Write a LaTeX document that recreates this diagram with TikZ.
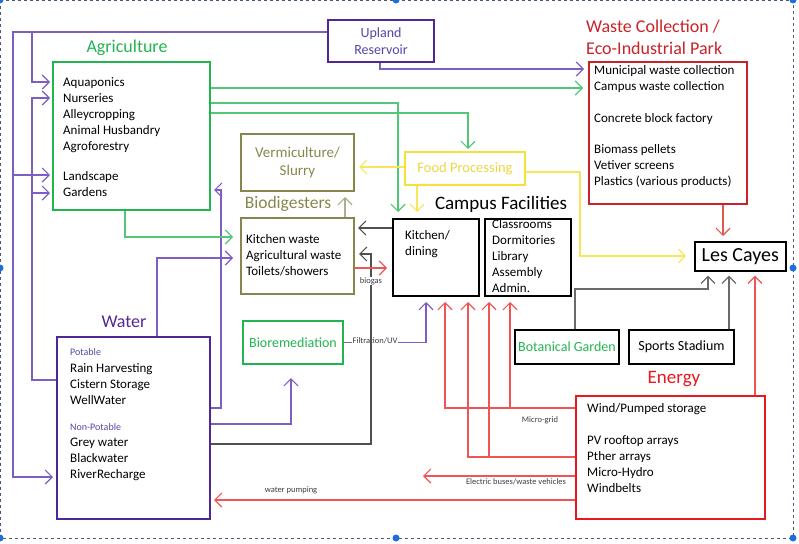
\documentclass[tikz,border=0pt]{standalone}
\usepackage{fontspec}
\setmainfont{Carlito}
\usetikzlibrary{arrows.meta}
\definecolor{agrigreen}{RGB}{34,180,80}
\definecolor{linegreen}{RGB}{80,200,120}
\definecolor{darkpurp}{RGB}{80,40,150}
\definecolor{linepurp}{RGB}{125,95,195}
\definecolor{textpurp}{RGB}{85,70,170}
\definecolor{olivec}{RGB}{135,135,75}
\definecolor{lightolive}{RGB}{170,175,140}
\definecolor{foodyel}{RGB}{245,225,60}
\definecolor{foodtext}{RGB}{238,214,70}
\definecolor{lineyel}{RGB}{245,230,90}
\definecolor{wastered}{RGB}{200,35,40}
\definecolor{energyred}{RGB}{232,25,30}
\definecolor{linered}{RGB}{240,85,85}
\definecolor{wastearrow}{RGB}{220,90,80}
\definecolor{linegray}{RGB}{80,80,80}
\definecolor{labelgray}{RGB}{60,60,70}
\definecolor{framecol}{RGB}{70,90,120}
\definecolor{dotblue}{RGB}{30,110,220}
\tikzset{
 box/.style={draw, rectangle, inner sep=0pt, anchor=north west, line width=2pt},
 conn/.style={line width=1.2pt, -{Straight Barb[length=7pt,width=14pt]}},
 body/.style={inner sep=0pt, anchor=north west, align=left, font=\fontsize{13}{16}\selectfont},
 lab/.style={inner sep=1pt, font=\fontsize{8.5}{10}\selectfont, text=labelgray},
 title/.style={inner sep=0pt, font=\fontsize{18}{22}\selectfont},
 mid/.style={inner sep=0pt, font=\fontsize{14}{17}\selectfont, align=center},
 hdot/.style={fill=dotblue, draw=none, circle, minimum size=7pt, inner sep=0pt},
}
\begin{document}
\begin{tikzpicture}[x=1pt,y=-1pt]
\useasboundingbox (0,0) rectangle (799,543);
% frame
\draw[framecol, dashed, line width=0.8pt] (0.5,0.5) rectangle (793,538);
\foreach \px/\py [count=\i] in {0/0,396/0,793/0,0/268,793/268,0/538,396/538,793/538}
  \node[hdot] (h\i) at (\px,\py) {};

% boxes
\node[box, draw=darkpurp, minimum width=106pt, minimum height=42pt] (upland) at (327,19) {};
\node[mid, text=textpurp] (uplandtxt) at (upland.center) {Upland\\Reservoir};

\node[box, draw=agrigreen, minimum width=157pt, minimum height=148pt] (agri) at (52,61) {};
\node[title, text=agrigreen] (agrititle) at (127,48) {Agriculture};
\node[body] (agritxt) at (63,77) {Aquaponics\\Nurseries\\Alleycropping\\Animal Husbandry\\Agroforestry\\[14pt]Landscape\\Gardens};

\node[box, draw=wastered, minimum width=158pt, minimum height=142pt] (waste) at (588,61) {};
\node[title, text=wastered, anchor=north west, align=left] (wastetitle) at (586,20) {Waste Collection /\\Eco-Industrial Park};
\node[body] (wastetxt) at (594,65) {Municipal waste collection\\Campus waste collection\\[16pt]Concrete block factory\\[15pt]Biomass pellets\\Vetiver screens\\Plastics (various products)};

\node[box, draw=olivec, minimum width=113pt, minimum height=57pt] (verm) at (240,133) {};
\node[inner sep=0pt, font=\fontsize{15}{18}\selectfont, text=olivec, align=center] (vermtxt) at (verm.center) {Vermiculture/\\Slurry};

\node[box, draw=foodyel, minimum width=120pt, minimum height=33pt] (food) at (404,151) {};
\node[mid, text=foodtext, font=\fontsize{14.5}{17}\selectfont] (foodtxt) at (food.center) {Food Processing};

\node[box, draw=olivec, minimum width=113pt, minimum height=76pt] (bio) at (240,217) {};
\node[inner sep=0pt, font=\fontsize{17.5}{20}\selectfont, text=olivec] (biotitle) at (288,204) {Biodigesters};
\node[body] (biotxt) at (246,234) {Kitchen waste\\Agricultural waste\\Toilets/showers};

\node[inner sep=0pt, font=\fontsize{19}{22}\selectfont] (camptitle) at (501,204) {Campus Facilities};
\node[box, draw=black, minimum width=86pt, minimum height=77pt] (kitchen) at (392,218) {};
\node[body] (kitchentxt) at (405,230) {Kitchen/\\dining};
\node[box, draw=black, minimum width=86pt, minimum height=77pt] (classes) at (484,218) {};
\node[body] (classtxt) at (492,219) {Classrooms\\Dormitories\\Library\\Assembly\\Admin.};

\node[box, draw=black, line width=1.6pt, minimum width=91pt, minimum height=29pt] (lescayes) at (694,241) {};
\node[inner sep=0pt, font=\fontsize{20}{22}\selectfont] (lestxt) at (lescayes.center) {Les Cayes};

\node[box, draw=agrigreen, minimum width=100pt, minimum height=43pt] (bioremed) at (242,320) {};
\node[mid, text=agrigreen] (bioremedtxt) at (bioremed.center) {Bioremediation};

\node[box, draw=black, minimum width=104pt, minimum height=34pt] (botan) at (514,329) {};
\node[mid, text=agrigreen] (botantxt) at (botan.center) {Botanical Garden};
\node[box, draw=black, minimum width=105pt, minimum height=34pt] (sports) at (628,329) {};
\node[mid] (sportstxt) at (sports.center) {Sports Stadium};

\node[box, draw=darkpurp, minimum width=153pt, minimum height=182pt] (water) at (56,336) {};
\node[title, text=darkpurp] (watertitle) at (124,322) {Water};
\node[inner sep=0pt, anchor=north west, font=\fontsize{10}{12}\selectfont, text=textpurp] (potable) at (70,348) {Potable};
\node[body] (watera) at (70,363) {Rain Harvesting\\Cistern Storage\\WellWater};
\node[inner sep=0pt, anchor=north west, font=\fontsize{10}{12}\selectfont, text=textpurp] (nonpot) at (70,423) {Non-Potable};
\node[body] (waterb) at (70,438) {Grey water\\Blackwater\\RiverRecharge};

\node[box, draw=energyred, minimum width=189pt, minimum height=123pt] (energy) at (575,395) {};
\node[inner sep=0pt, font=\fontsize{19}{22}\selectfont, text=energyred] (energytitle) at (674,379) {Energy};
\node[body] (energytxt) at (587,403) {Wind/Pumped storage\\[16pt]PV rooftop arrays\\Pther arrays\\Micro-Hydro\\Windbelts};

% purple connectors
\draw[conn, linepurp, shorten >=3pt] (upland.west |- 0,32) -| (13,477) -- (water.west |- 0,477);
\draw[conn, linepurp, shorten >=2pt] (13,175) -- (agri.west |- 0,175);
\draw[conn, linepurp, shorten >=2pt] (32,32) |- (agri.west |- 0,82);
\draw[conn, linepurp, shorten >=2pt] (water.west |- 0,380) -| (32,98) -- (agri.west |- 0,98);
\draw[conn, linepurp, shorten >=2pt] (32,193) -- (agri.west |- 0,193);
\draw[conn, linepurp, shorten >=7pt] (water.north -| 157,0) |- (bio.west |- 0,258);
\draw[conn, linepurp, shorten >=3pt] (water.east |- 0,408) -| (221,190) -- (agri.east |- 0,190);
\draw[conn, linepurp, shorten >=13pt] (water.east |- 0,424) -| (bioremed.south -| 291,0);
\draw[conn, linepurp, shorten >=4pt] (upland.south -| 380,0) |- (waste.west |- 0,69);
\draw[conn, linepurp, shorten >=5pt] (bioremed.east) -| (kitchen.south -| 426,0);
\node[lab, fill=white] (filt) at (375,341) {Filtration/UV};

% gray connectors
\draw[conn, linegray, shorten >=4pt] (water.east |- 0,444) -| (371,254) -- (bio.east |- 0,254);
\draw[conn, linegray, shorten >=3pt] (kitchen.west |- 0,228) -- (bio.east |- 0,228);
\draw[conn, linegray!85!white, shorten >=4pt] (botan.north -| 575,0) |- (708,289) -- (lescayes.south -| 708,0);
\draw[conn, linegray!85!white, shorten >=4pt] (sports.north -| 729,0) -- (lescayes.south -| 729,0);

% red connectors
\draw[conn, linered, shorten >=5pt] (bio.east |- 0,268) -- (kitchen.west |- 0,268);
\node[lab, fill=white, inner sep=0.5pt] (biogaslab) at (371,281) {biogas};
\draw[conn, linered, shorten >=5pt] (energy.west |- 0,408) -| (kitchen.south -| 445,0);
\draw[conn, linered, shorten >=5pt] (510,408) -- (classes.south -| 510,0);
\draw[conn, linered, shorten >=5pt] (energy.west |- 0,457) -| (kitchen.south -| 468,0);
\draw[conn, linered, shorten >=5pt] (489,457) -- (classes.south -| 489,0);
\coordinate (busend) at (423,476);
\draw[conn, linered] (energy.west |- 0,476) -- (busend);
\draw[conn, linered, shorten >=3pt] (energy.west |- 0,500) -- (water.east |- 0,500);
\draw[conn, linered, shorten >=4pt] (energy.north -| 755,0) -- (lescayes.south -| 755,0);
\draw[conn, wastearrow, shorten >=5pt] (waste.south -| 723,0) -- (lescayes.north -| 723,0);
\node[lab] (microgrid) at (540,420) {Micro-grid};
\node[lab] (buslab) at (516,482) {Electric buses/waste vehicles};
\node[lab] (pumplab) at (291,490) {water pumping};

% green connectors
\draw[conn, linegreen, shorten >=5pt] (agri.east |- 0,88) -- (waste.west |- 0,88);
\draw[conn, linegreen, shorten >=6pt] (agri.east |- 0,103) -| (kitchen.north -| 398,0);
\draw[conn, linegreen, shorten >=2pt] (agri.east |- 0,113) -| (food.north -| 468,0);
\draw[conn, linegreen, shorten >=7pt] (agri.south -| 125,0) |- (bio.west |- 0,237);

% yellow connectors
\draw[conn, lineyel, shorten >=4pt] (food.west |- 0,167) -- (verm.east |- 0,167);
\draw[conn, lineyel, shorten >=6pt] (food.south -| 417,0) -- (kitchen.north -| 417,0);
\draw[conn, lineyel, shorten >=8pt] (food.east |- 0,172) -| (580,256) -- (lescayes.west |- 0,256);

% olive
\draw[conn, lightolive, shorten >=5pt] (bio.north -| 345,0) -- (verm.south -| 345,0);
\end{tikzpicture}
\end{document}
